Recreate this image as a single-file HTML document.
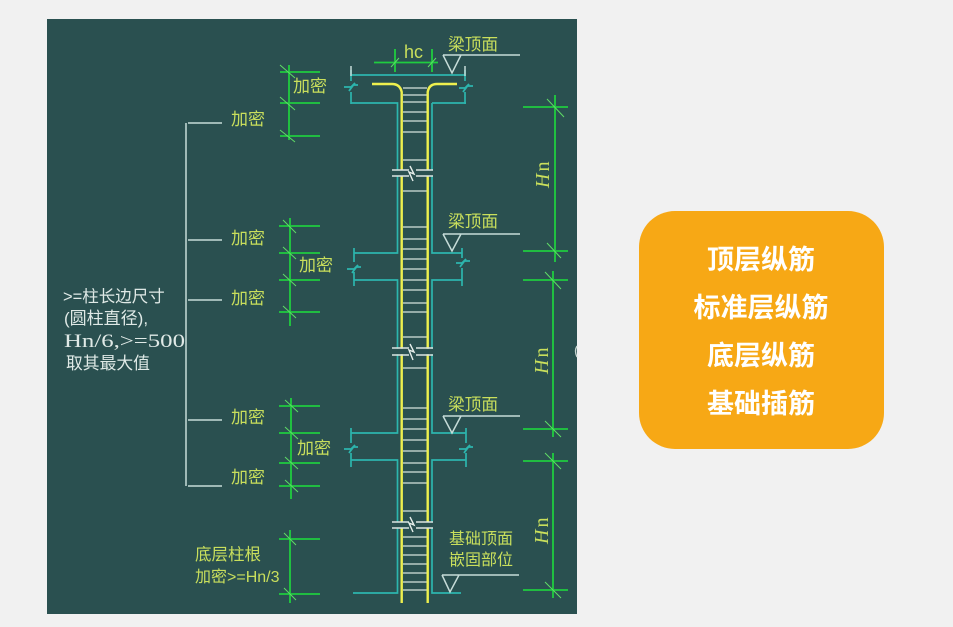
<!DOCTYPE html>
<html lang="zh"><head><meta charset="utf-8"><style>
html,body{margin:0;padding:0;background:#f1f1f1}
svg{display:block}
text{font-family:"Liberation Sans","Noto Sans CJK SC",sans-serif}
.y{fill:#c9df5c;font-size:17px}
.w{fill:#dfe9e6;font-size:15.5px}
.o{fill:#fff;font-size:27px;font-weight:700;text-anchor:middle}
.hn{font-family:"Liberation Serif",serif;fill:#c9df5c;font-size:20px}
.g{stroke:#1fcc3f;stroke-width:1.8;fill:none}
.gt{stroke:#5fdc66;stroke-width:1;fill:none}
.c{stroke:#2cb5ad;stroke-width:1.7;fill:none}
.b{stroke:#c6dcd8;stroke-width:1.5;fill:none}
.s{stroke:#d5e2dc;stroke-width:1.3;fill:none}
.h{stroke:#eef04e;stroke-width:2.4;fill:none}
</style></head><body>
<svg width="953" height="627" viewBox="0 0 953 627" xmlns="http://www.w3.org/2000/svg">
<rect width="953" height="627" fill="#f1f1f1"/>
<rect x="47" y="19" width="530" height="595" fill="#2a5050"/>
<g style="filter:blur(.35px)">

<!-- bracket -->
<path class="b" d="M186 123V486M188 123H222M188 240H222M188 300H222M188 420H222M188 486H222"/>

<!-- stirrups -->
<path class="s" d="M403 88H427M403 95H427M403 102H427M403 112H427M403 121H427M403 132H427M403 160H427M403 191H427M403 227H427M403 239H427M403 249H427M403 259H427M403 269H427M403 280H427M403 290H427M403 303H427M403 312H427M403 337H427M403 368H427M403 408H427M403 419H427M403 429H427M403 440H427M403 451H427M403 463H427M403 472H427M403 483H427M403 511H427M403 537H427M403 546H427M403 555H427M403 564H427M403 573H427M403 582H427M403 590H427"/>

<!-- concrete outline -->
<path class="c" d="M351 75H465M351 103H397.5V253H354M432 103H466M432 103V253H462M354 280H397.5V433H351M462 280H432V433H466M351 460H397.5V593H353M466 460H432V593H461"/>
<path class="c" d="M351 70V81M351 92V104M465 70V81M465 92V104M354 248V262M354 272V286M462 248V258M462 268V286M351 428V443M351 453V467M466 428V443M466 453V467"/>
<path class="b" d="M351 66V76M465 66V76"/>
<path class="c" d="M344 87H351L355 83L349 91L353 85H358M459 88H465L469 84L463 92L467 86H473M347 269H354L358 265L352 273L356 267H361M456 263H462L466 259L460 267L464 261H470M344 449H351L355 445L349 453L353 447H358M459 449H466L470 445L464 453L468 447H473"/>

<!-- rebar -->
<path class="h" d="M372 84H392Q400 84 401.7 92V603M457 84H437Q429 84 427.7 92V603"/>

<!-- break lines -->
<g>
<path d="M390 173H435M390 351.5H435M390 525H435" stroke="#2a5050" stroke-width="5.5" fill="none"/>
<path d="M392 170H409M416 170H433M392 176H409M416 176H433M392 348H409M416 348H433M392 355H409M416 355H433M392 522H409M416 522H433M392 528H409M416 528H433" stroke="#dbe6e2" stroke-width="1.5" fill="none"/>
<path d="M410 166L414 174L409 172L413 181M410 344L414 352L409 350L413 360M410 517L414 525L409 523L413 532" stroke="#e6eeea" stroke-width="1.4" fill="none"/>
</g>

<!-- level symbols -->
<path class="b" d="M443 55L452 73L461 55H520M443 55H461"/>
<path class="b" d="M443 234L452 251L461 234H520M443 234H461"/>
<path class="b" d="M443 416L452 433L461 416H520M443 416H461"/>
<path class="b" d="M442 575L450 592L459 575H519M442 575H459"/>

<!-- green dims -->
<path class="g" d="M374 62.5H438M395 49V72M432 49V72"/>
<path class="gt" d="M391 67L399 58M428 67L436 58"/>

<path class="g" d="M289 65V140M280 72H320M280 103H320M280 136H320"/>
<path class="gt" d="M280 65L295 78M280 97L295 110M280 130L295 142"/>

<path class="g" d="M290 218V326M279 226H320M279 253H320M279 280H320M279 312H320"/>
<path class="gt" d="M283 220L296 233M283 247L296 259M283 274L296 286M283 306L296 318"/>

<path class="g" d="M291 398V499M279 406H320M279 433H320M279 463H320M279 486H320"/>
<path class="gt" d="M285 400L298 412M285 427L298 439M285 457L298 469M285 480L298 492"/>

<path class="g" d="M290 530V603M279 539H320M279 594H320"/>
<path class="gt" d="M284 533L296 545M284 588L296 600"/>

<path class="g" d="M555 95V262M523 107H568M523 251H568"/>
<path class="gt" d="M547 99L564 117M547 243L561 258"/>
<path class="g" d="M553 271V437M523 280H568M523 429H568"/>
<path class="gt" d="M545 272L561 289M545 421L561 437"/>
<path class="g" d="M553 453V598M523 461H568M523 590H568"/>
<path class="gt" d="M545 453L561 469M545 582L561 598"/>

<!-- labels -->
<text class="y" x="404" y="58" style="font-size:18px">hc</text>
<text class="y" x="448" y="50" style="font-size:16.7px">梁顶面</text>
<text class="y" x="448" y="227" style="font-size:16.7px">梁顶面</text>
<text class="y" x="448" y="410" style="font-size:16.7px">梁顶面</text>
<text class="y" x="449" y="544" style="font-size:16px">基础顶面</text>
<text class="y" x="449" y="565" style="font-size:16px">嵌固部位</text>

<text class="y" x="293" y="92">加密</text>
<text class="y" x="299" y="271">加密</text>
<text class="y" x="297" y="454">加密</text>
<text class="y" x="231" y="125">加密</text>
<text class="y" x="231" y="244">加密</text>
<text class="y" x="231" y="304">加密</text>
<text class="y" x="231" y="423">加密</text>
<text class="y" x="231" y="483">加密</text>
<text class="y" x="195" y="560" style="font-size:16.5px">底层柱根</text>
<text class="y" x="195" y="582" style="font-size:16px">加密&gt;=Hn/3</text>

<text class="w" x="63" y="302" style="font-size:16.5px">&gt;=柱长边尺寸</text>
<text class="w" x="64" y="324" style="font-size:17px">(圆柱直径),</text>
<text class="w" x="64" y="347" style="font-family:'Liberation Serif',serif;font-size:18.5px" textLength="121" lengthAdjust="spacingAndGlyphs">Hn/6,&gt;=500</text>
<text class="w" x="66" y="369" style="font-size:16.8px">取其最大值</text>

<text class="hn" transform="translate(549,188) rotate(-90)"><tspan font-style="italic">H</tspan><tspan dx="2">n</tspan></text>
<text class="hn" transform="translate(548,374) rotate(-90)"><tspan font-style="italic">H</tspan><tspan dx="2">n</tspan></text>
<text class="hn" transform="translate(548,544) rotate(-90)"><tspan font-style="italic">H</tspan><tspan dx="2">n</tspan></text>

<path d="M577 346Q574 351 577 357" stroke="#c8d6d2" stroke-width="1.4" fill="none"/>
</g>

<!-- orange box -->
<rect x="639" y="211" width="245" height="238" rx="36" ry="36" fill="#f7a815"/>
<text class="o" x="761" y="269">顶层纵筋</text>
<text class="o" x="761" y="317">标准层纵筋</text>
<text class="o" x="761" y="365">底层纵筋</text>
<text class="o" x="761" y="413">基础插筋</text>
</svg>
</body></html>
